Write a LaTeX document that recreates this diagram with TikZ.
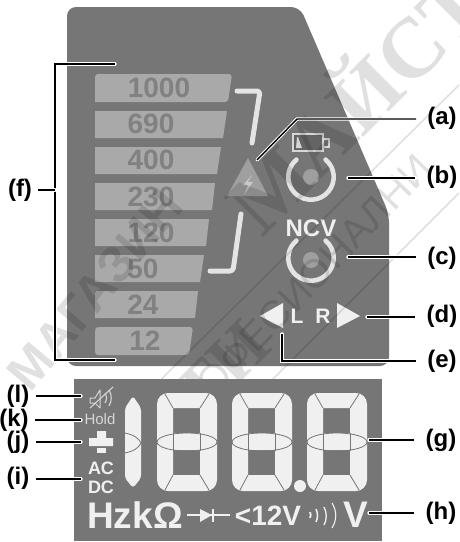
\documentclass[tikz,border=0pt]{standalone}
\usepackage{fontspec}
\setmainfont{Liberation Sans}
\newfontfamily\wmserif{Liberation Serif}
\definecolor{panel}{HTML}{767676}
\definecolor{barc}{HTML}{A9A9A9}
\definecolor{bartext}{HTML}{818181}
\definecolor{seg}{HTML}{F0F0F0}
\definecolor{soft}{HTML}{D6D6D6}
\newcommand{\fsz}[1]{\fontsize{#1}{#1}\selectfont}
\tikzset{
  panelbox/.style={fill=panel,draw=none},
  bar/.style={fill=barc,draw=none},
  volt/.style={font=\fsz{28}\bfseries,text=bartext,inner sep=0pt},
  brk/.style={draw=seg!95!black,line width=5pt,line cap=round,line join=round,rounded corners=3pt},
  ringc/.style={draw=seg!95!black,line width=4.6pt,line cap=round},
  dotc/.style={fill=barc!80!panel,draw=none},
  glyph/.style={fill=seg,draw=none},
  segline/.style={draw=panel,line width=.8pt},
  softline/.style={draw=soft,line width=1.1pt},
  sym/.style={text=seg,inner sep=0pt},
  conn/.style={draw=black,line width=1.4pt,preaction={draw=white,line width=3.4pt,line cap=round}},
  rlabel/.style={font=\fsz{24}\bfseries,inner xsep=11pt,inner ysep=0pt},
  llabel/.style={font=\fsz{24}\bfseries,inner xsep=6pt,inner ysep=0pt},
  wm/.style={opacity=.12,text=black,inner sep=0pt},
  wmline/.style={draw=black,opacity=.12,line width=1.6pt},
}
\newcommand{\digit}[1]{%
  \begin{scope}[shift={(#1,0)}]
    \fill[seg,even odd rule,rounded corners=11pt] (0,393) -- (60,393) -- (60,491) -- (0,491) -- cycle
      [sharp corners] (16,408) rectangle (43,433) (16,450) rectangle (43,475);
    \draw[segline] (8,394) -- (16,408) (52,394) -- (43,408) (8,490) -- (16,475) (52,490) -- (43,475);
    \draw[segline] (30,442) ellipse [x radius=30,y radius=9];
    \draw[segline] (16,433) -- (16,451) (43,433) -- (43,451);
  \end{scope}}
\begin{document}
\begin{tikzpicture}[x=1pt,y=-1pt]
\useasboundingbox (0,0) rectangle (459,542);
% upper panel
\path[panelbox,rounded corners=9pt] (67,366) -- (67,7) -- (300,7) -- (389,214) -- (389,366) -- cycle;
% bars
\path[bar,rounded corners=3pt] (95,102) -- (95,74) -- (232,74) -- (228,102) [sharp corners] -- cycle;
\path[bar] (95,111) -- (227,111) -- (223,138) -- (95,138) -- cycle;
\path[bar] (95,147) -- (221,147) -- (217,174) -- (95,174) -- cycle;
\path[bar] (95,183) -- (215,183) -- (212,210) -- (95,210) -- cycle;
\path[bar] (95,219) -- (209,219) -- (206,246) -- (95,246) -- cycle;
\path[bar] (95,255) -- (204,255) -- (200,282) -- (95,282) -- cycle;
\path[bar] (97,291) -- (198,291) -- (195,318) -- (95,318) -- (95,293) -- cycle;
\path[bar,rounded corners=3pt] (95,329) -- (97,327) -- (193,327) -- (189,355) -- (95,355) -- cycle;
\node[volt] (v1) at (159,88) {1000};
\node[volt] (v2) at (151,124) {690};
\node[volt] (v3) at (151,160) {400};
\node[volt] (v4) at (151,197) {230};
\node[volt] (v5) at (151,233) {120};
\node[volt] (v6) at (143,269) {50};
\node[volt] (v7) at (143,305) {24};
\node[volt] (v8) at (145,341) {12};
% brackets
\draw[brk] (237,91) -- (260,91) -- (252,143);
\draw[brk] (241,214) -- (233,271) -- (210,271);
% warning
\fill[barc!80!panel] (248,158) -- (268,196) -- (227,196) -- cycle;
\fill[soft!85!panel] (252,175) -- (243,185) -- (248,185) -- (244,195) -- (253,182) -- (248,182) -- cycle;
% battery
\draw[draw=soft,line width=1.2pt,fill=panel!85!black] (293,134) rectangle (323,151);
\draw[draw=soft,line width=1.2pt,fill=panel] (323,139) rectangle (329,147);
\fill[soft] (297,137) -- (298,137) -- (302,148) -- (296,148) -- cycle;
% LEDs
\coordinate (ledb) at (311,177);
\coordinate (ledc) at (311,258);
\draw[ringc] ([shift={(-50:22.7)}]ledb) arc[start angle=-50,end angle=230,radius=22.7];
\draw[ringc] ([shift={(-50:22.7)}]ledc) arc[start angle=-50,end angle=230,radius=22.7];
\fill[dotc] (ledb) circle[radius=8];
\fill[dotc] (311,260) circle[radius=8];
\node[sym,font=\fsz{24}\bfseries] (ncv) at (311,228) {NCV};
% direction
\path[glyph] (260,316) -- (283,303) -- (283,328) -- cycle;
\path[glyph] (337,303) -- (360,316) -- (337,328) -- cycle;
\node[sym,font=\fsz{21}\bfseries] (ltxt) at (297,316) {L};
\node[sym,font=\fsz{21}\bfseries] (rtxt) at (323,316) {R};
% watermark
\node[wm,rotate=50,font=\fsz{50}\bfseries] (w1) at (95,290) {МАГАЗИН};
\node[wm,rotate=45,font=\fsz{85}\bfseries\wmserif] (w2) at (352,98) {МАЙСТ};
\node[wm,rotate=45,font=\fsz{70}\bfseries\wmserif] (w4) at (190,400) {БАТИ};
\node[wm,rotate=46,font=\fsz{40}] (w3) at (295,295) {ПРОФЕСИОНАЛНИ};
\path[wmline] (130,410) -- (459,85);
\path[wmline] (185,467) -- (459,193);
% lower panel
\path[panelbox] (74,379) rectangle (382,541);
% left column of display
\draw[draw=soft,line width=1pt,line join=round] (90,398) -- (95,398) -- (100,390) -- (100,408) -- (95,403) -- (90,403) -- cycle;
\draw[softline] (90,408) -- (113,387);
\draw[softline] (105,393) .. controls (107,396) and (107,400) .. (105,403);
\draw[softline] (109,390) .. controls (112,395) and (112,401) .. (109,406);
\node[inner sep=0pt,text=soft,font=\fsz{15}] (hold) at (100,419) {Hold};
\path[glyph] (97,431) -- (106,431) -- (106,438) -- (113,438) -- (113,446) -- (89,446) -- (89,438) -- (97,438) -- cycle;
\path[glyph] (97,447.5) rectangle (106,453);
\node[sym,font=\fsz{18}\bfseries] (ac) at (101,468) {AC};
\node[sym,font=\fsz{18}\bfseries] (dc) at (101,487) {DC};
% digits
\fill[seg,rounded corners=3pt] (133,396) -- (141,408) -- (141,478) -- (133,488) -- (125,478) -- (125,408) -- cycle;
\draw[segline] (125,433) .. controls (135,435) and (139,439) .. (141,443) .. controls (139,447) and (135,451) .. (125,453);
\digit{157}
\digit{232}
\digit{307}
\fill[seg] (300,486) circle[radius=6];
% bottom row
\node[sym,font=\fsz{37}\bfseries] (hz) at (135,515) {HzkΩ};
\draw[seg,line width=1.5pt] (187,515) -- (230,515);
\path[glyph] (200,509) -- (212,515) -- (200,522) -- cycle;
\draw[seg,line width=1.6pt] (213,509) -- (213,522);
\node[sym,font=\fsz{28}\bfseries] (lt12) at (268,516) {<12V};
\draw[seg,line width=1.8pt] (310,512) .. controls (311,514) and (311,516) .. (310,518);
\draw[seg,line width=1.5pt] (316,509) .. controls (318,513) and (318,518) .. (316,522);
\draw[seg,line width=1.3pt] (324,507) .. controls (327,512) and (327,520) .. (324,525);
\draw[seg,line width=1.1pt] (332,503) .. controls (337,511) and (337,520) .. (332,528);
\node[sym,font=\fsz{37}\bfseries] (vv) at (355.5,515) {V};
% labels
\node[rlabel] (la) at (442,118) {(a)};
\node[rlabel] (lb) at (442,177) {(b)};
\node[rlabel] (lc) at (442,258) {(c)};
\node[rlabel] (ld) at (442,316) {(d)};
\node[rlabel] (le) at (442,361) {(e)};
\node[llabel] (lf) at (20,190) {(f)};
\node[rlabel] (lg) at (441,440) {(g)};
\node[rlabel] (lh) at (441,513) {(h)};
\node[llabel] (li) at (18,478) {(i)};
\node[llabel] (lj) at (18,442) {(j)};
\node[llabel] (lk) at (14,420) {(k)};
\node[llabel] (ll) at (18,396) {(l)};
% free ends
\coordinate (ea) at (257,160); \coordinate (eb) at (348,178);
\coordinate (ec) at (348,257); \coordinate (ed) at (367,317);
\coordinate (ee) at (282,334); \coordinate (ef1) at (115,64);
\coordinate (ef2) at (115,360); \coordinate (fm) at (55,190);
\coordinate (eg) at (369,440); \coordinate (eh) at (369,513);
\coordinate (ei) at (81,479); \coordinate (ej) at (81,442);
\coordinate (ek) at (81,420); \coordinate (el) at (81,396);
% connectors
\draw[conn] (ea) -- (297,119) -- (la.west |- 0,119);
\draw[conn] (eb) -- (lb.west |- eb);
\draw[conn] (ec) -- (lc.west |- ec);
\draw[conn] (ed) -- (ld.west |- ed);
\draw[conn] (ee) -- (282,361) -- (le.west);
\draw[conn] (ef1) -- (55,64) -- (55,360) -- (ef2);
\draw[conn] (lf.east) -- (fm);
\draw[conn] (eg) -- (lg.west);
\draw[conn] (eh) -- (lh.west);
\draw[conn] (ei) -- (li.east |- ei);
\draw[conn] (ej) -- (lj.east);
\draw[conn] (ek) -- (lk.east);
\draw[conn] (el) -- (ll.east);
\end{tikzpicture}
\end{document}
